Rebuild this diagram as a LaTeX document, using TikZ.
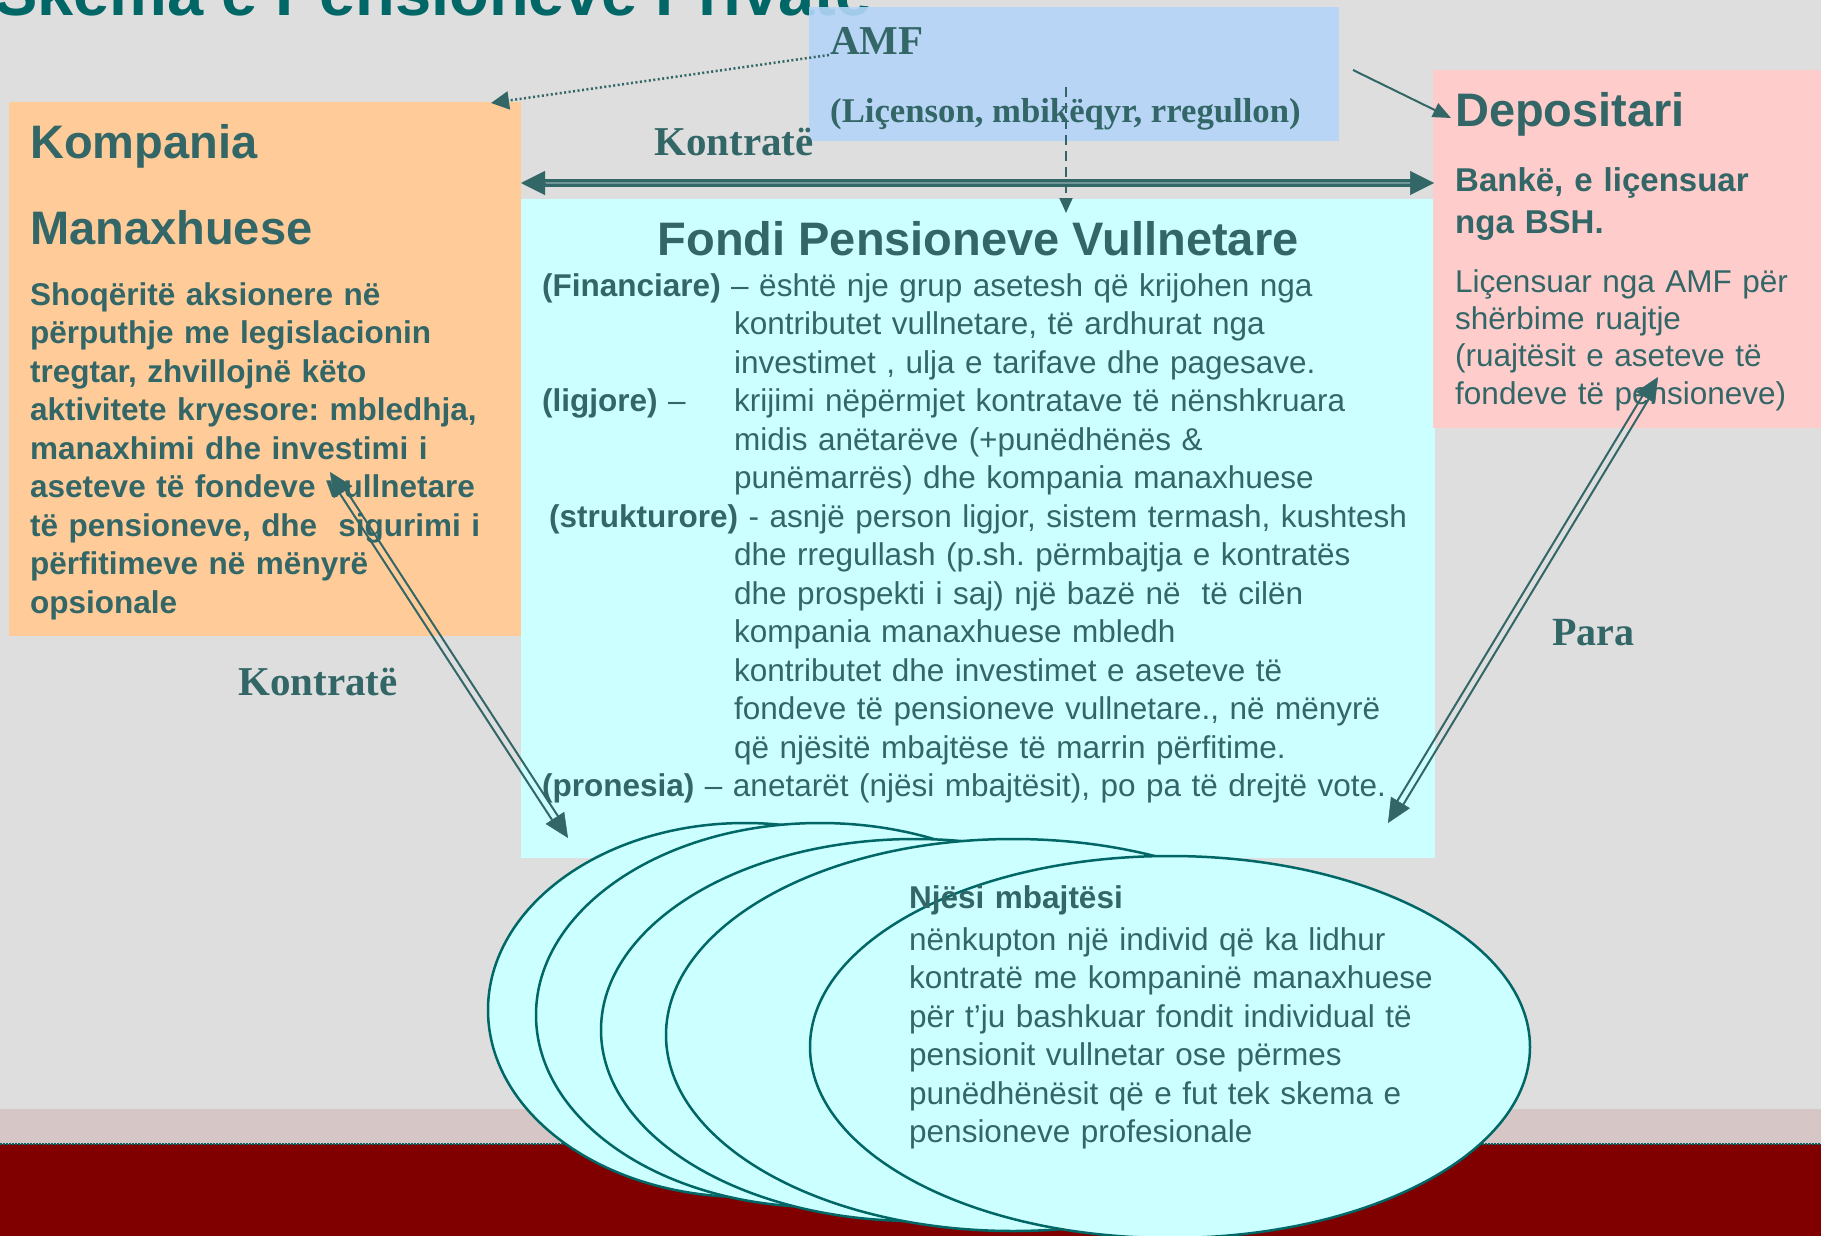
\documentclass[tikz,border=0pt]{standalone}
\usepackage{fontspec}
\setmainfont{Liberation Sans}
\newfontfamily\serifbf{Liberation Serif}
\usetikzlibrary{shapes.geometric,arrows.meta,calc}
\definecolor{tealtxt}{RGB}{51,102,102}
\definecolor{titleteal}{RGB}{0,102,102}
\definecolor{bggray}{RGB}{222,222,222}
\definecolor{bandpink}{RGB}{214,198,198}
\definecolor{darkred}{RGB}{128,0,0}
\definecolor{orangebox}{RGB}{255,204,153}
\definecolor{cyanbox}{RGB}{204,255,255}
\definecolor{pinkbox}{RGB}{255,204,204}
\definecolor{bluebox}{RGB}{180,213,248}
\definecolor{ellline}{RGB}{0,102,102}
\definecolor{stripe}{RGB}{110,150,150}
\frenchspacing
\hyphenpenalty=10000
\begin{document}
\begin{tikzpicture}[x=1pt,y=-1pt,
  boxn/.style={rectangle, inner sep=0pt, draw=none},
  ell/.style={ellipse, inner sep=0pt, fill=cyanbox, draw=ellline, line width=2.5pt},
  txt/.style={inner sep=0pt, anchor=base west, text=tealtxt, align=left},
  head/.style={txt, font=\fontsize{47}{56}\selectfont\bfseries},
  bodyb/.style={txt, text width=900pt, font=\fontsize{31.5}{38.5}\selectfont\bfseries},
  bodyr/.style={txt, text width=900pt, font=\fontsize{31.5}{38.5}\selectfont},
  serlab/.style={txt, font=\fontsize{41}{48}\selectfont\serifbf\bfseries},
  hollow/.style={draw=tealtxt, line width=2pt},
  tipst/.style={draw=tealtxt, fill=tealtxt, line width=0.5pt, -{Triangle[length=24pt,width=22pt]}},
  hline/.style={draw=tealtxt, double=stripe, double distance=1.6pt, line width=3.2pt},
  dotarrow/.style={draw=tealtxt, line width=2.5pt, dash pattern=on 2pt off 2.5pt, -{Triangle[length=18pt,width=18pt]}},
  dasharrow/.style={draw=tealtxt, line width=2pt, dash pattern=on 10pt off 6pt, -{Triangle[length=15pt,width=13pt]}},
  solidarrow/.style={draw=tealtxt, line width=2pt, -{Triangle[length=18pt,width=15pt]}}
]
\useasboundingbox (0,0) rectangle (1821,1236);
\clip (0,0) rectangle (1821,1236);
% background
\fill[bggray] (0,0) rectangle (1821,1236);
\fill[bandpink] (0,1109) rectangle (1821,1144);
\fill[darkred] (0,1144) rectangle (1821,1236);
\draw[titleteal, line width=1.5pt, dash pattern=on 1.5pt off 1.5pt] (0,1144) -- (1821,1144);
% title
\node[txt, text=titleteal, font=\fontsize{65}{78}\selectfont\bfseries] (title) at (-6,16) {Skema e Pensioneve Private};
% boxes
\node[boxn, fill=bluebox, fill opacity=0.9, minimum width=530pt, minimum height=134pt] (amf) at (1074,74) {};
\node[boxn, fill=orangebox, minimum width=512pt, minimum height=534pt] (komp) at (265,369) {};
\node[boxn, fill=cyanbox, minimum width=914pt, minimum height=659pt] (fondi) at (978,528.5) {};
\node[boxn, fill=pinkbox, minimum width=388pt, minimum height=358pt] (dep) at (1627,249) {};
% ellipses
\node[ell, minimum width=514pt, minimum height=374pt] (e1) at (745,1010) {};
\node[ell, minimum width=568pt, minimum height=384pt] (e2) at (820,1015) {};
\node[ell, minimum width=628pt, minimum height=382pt] (e3) at (915,1030) {};
\node[ell, minimum width=694pt, minimum height=392pt] (e4) at (1013,1035) {};
\node[ell, minimum width=720pt, minimum height=382pt] (e5) at (1170,1047) {};
% AMF texts
\node[serlab] (amft) at (830,55) {AMF};
\node[serlab, font=\fontsize{34.7}{42}\selectfont\serifbf\bfseries] (amfs) at (830,123) {(Liçenson, mbikëqyr, rregullon)};
% labels
\node[serlab] (kontr1) at (654,156) {Kontratë};
\node[serlab] (kontr2) at (238,695) {Kontratë};
\node[serlab, font=\fontsize{40}{48}\selectfont\serifbf\bfseries] (para) at (1552,645) {Para};
% Kompania
\node[head] (kompa) at (30,159) {Kompania};
\node[head] (kompb) at (30,244) {Manaxhuese};
\node[bodyb, text width=480pt] (kompc) at (30,305) {Shoqëritë aksionere në\\përputhje me legislacionin\\tregtar, zhvillojnë këto\\aktivitete kryesore: mbledhja,\\manaxhimi dhe investimi i\\aseteve të fondeve vullnetare\\të pensioneve, dhe\ \ sigurimi i\\përfitimeve në mënyrë\\opsionale};
% Depositari
\node[head] (depa) at (1455,127) {Depositari};
\node[txt, text width=360pt, font=\fontsize{33}{41}\selectfont\bfseries] (depb) at (1455,192) {Bankë, e liçensuar\\nga BSH.};
\node[txt, text width=360pt, font=\fontsize{31.5}{37.4}\selectfont] (depc) at (1455,292) {Liçensuar nga AMF për\\shërbime ruajtje\\(ruajtësit e aseteve të\\fondeve të pensioneve)};
% Fondi
\node[txt, anchor=base, font=\fontsize{47}{56}\selectfont\bfseries] (fondt) at (978,255) {Fondi Pensioneve Vullnetare};
\node[bodyr] (fin1) at (542,296) {\textbf{(Financiare)} – është nje grup asetesh që krijohen nga};
\node[bodyr] (fin2) at (734,334.5) {kontributet vullnetare, të ardhurat nga\\investimet , ulja e tarifave dhe pagesave.};
\node[bodyr] (lig1) at (542,411.5) {\textbf{(ligjore)} –};
\node[bodyr] (lig2) at (734,411.5) {krijimi nëpërmjet kontratave të nënshkruara\\midis anëtarëve (+punëdhënës \&\\punëmarrës) dhe kompania manaxhuese};
\node[bodyr] (str1) at (549,527) {\textbf{(strukturore)} - asnjë person ligjor, sistem termash, kushtesh};
\node[bodyr] (str2) at (734,565.5) {dhe rregullash (p.sh. përmbajtja e kontratës\\dhe prospekti i saj) një bazë në\ \ të cilën\\kompania manaxhuese mbledh\\kontributet dhe investimet e aseteve të\\fondeve të pensioneve vullnetare., në mënyrë\\që njësitë mbajtëse të marrin përfitime.};
\node[bodyr] (pro) at (542,796) {\textbf{(pronesia)} – anetarët (njësi mbajtësit), po pa të drejtë vote.};
% ellipse text
\node[bodyb] (njt) at (909,908) {Njësi mbajtësi};
\node[bodyr] (njb) at (909,950) {nënkupton një individ që ka lidhur\\kontratë me kompaninë manaxhuese\\për t’ju bashkuar fondit individual të\\pensionit vullnetar ose përmes\\punëdhënësit që e fut tek skema e\\pensioneve profesionale};
% connector coordinates
\coordinate (dotS) at (829,55);
\coordinate (dotE) at (491,103);
\coordinate (dsS) at (1353,70);
\coordinate (dsE) at (1451,118);
\coordinate (vdS) at (1066,87);
\coordinate (vdE) at (1066,213);
\coordinate (hL) at (521,183);
\coordinate (hR) at (1434,183);
\coordinate (kl1) at (330,472);
\coordinate (kl2) at (568,838);
\coordinate (pr1) at (1658,377);
\coordinate (pr2) at (1388,823);
% arrows
\draw[dotarrow] (dotS) -- (dotE);
\draw[solidarrow] (dsS) -- (dsE);
\draw[dasharrow] (vdS) -- (vdE);
\draw[hline] ($(hL)!22pt!(hR)$) -- ($(hR)!22pt!(hL)$);
\draw[tipst, -{Triangle[length=24pt,width=24pt]}] ($(hL)!24pt!(hR)$) -- (hL);
\draw[tipst, -{Triangle[length=24pt,width=24pt]}] ($(hR)!24pt!(hL)$) -- (hR);
% hollow double arrows
\draw[hollow] ($(kl1)!20pt!(kl2)!3.5pt!90:(kl2)$) -- ($(kl2)!20pt!(kl1)!3.5pt!-90:(kl1)$);
\draw[hollow] ($(kl1)!20pt!(kl2)!3.5pt!-90:(kl2)$) -- ($(kl2)!20pt!(kl1)!3.5pt!90:(kl1)$);
\draw[tipst] ($(kl1)!24pt!(kl2)$) -- (kl1);
\draw[tipst] ($(kl2)!24pt!(kl1)$) -- (kl2);
\draw[hollow] ($(pr1)!20pt!(pr2)!3.5pt!90:(pr2)$) -- ($(pr2)!20pt!(pr1)!3.5pt!-90:(pr1)$);
\draw[hollow] ($(pr1)!20pt!(pr2)!3.5pt!-90:(pr2)$) -- ($(pr2)!20pt!(pr1)!3.5pt!90:(pr1)$);
\draw[tipst] ($(pr1)!24pt!(pr2)$) -- (pr1);
\draw[tipst] ($(pr2)!24pt!(pr1)$) -- (pr2);
\end{tikzpicture}
\end{document}
